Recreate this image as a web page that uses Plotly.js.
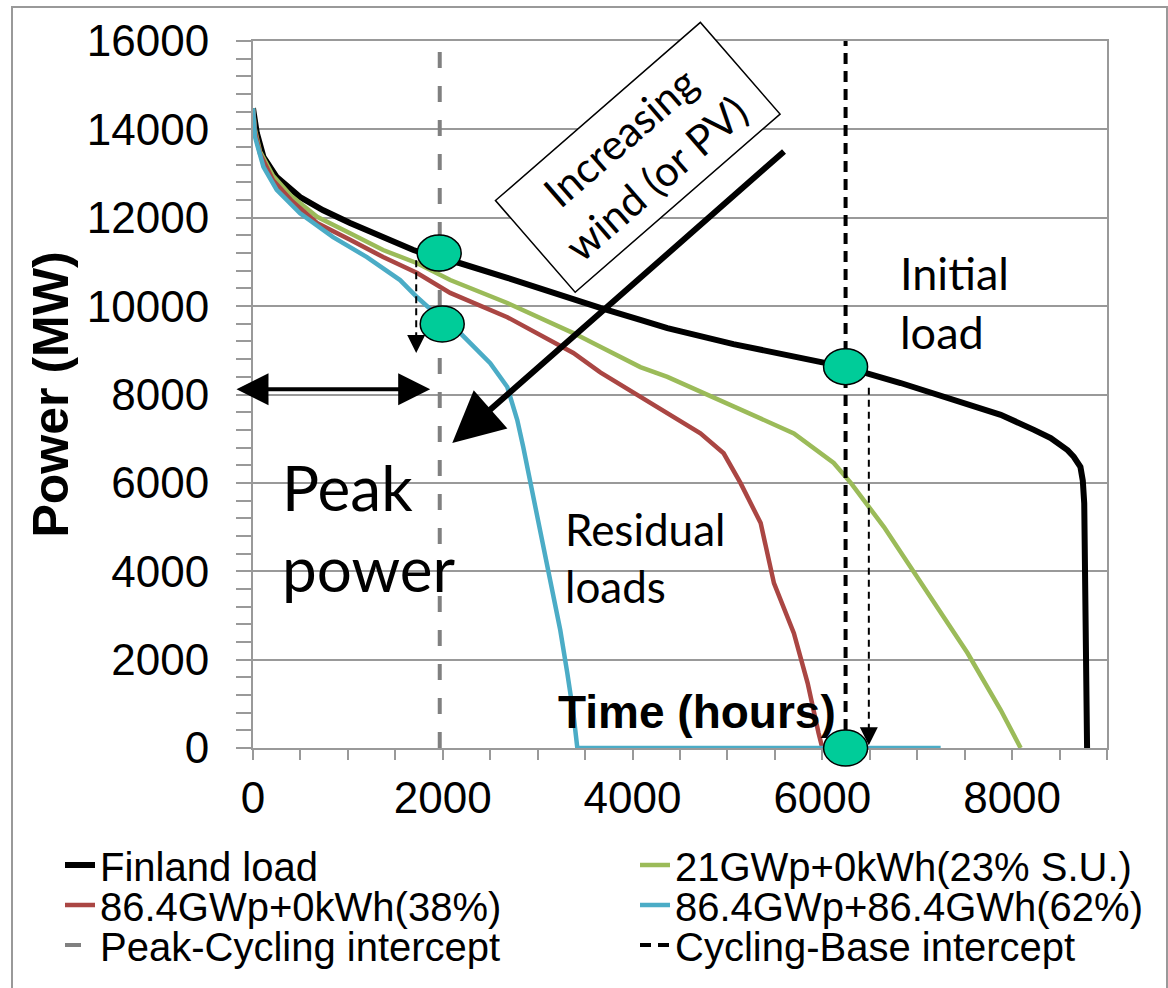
<!DOCTYPE html>
<html>
<head>
<meta charset="utf-8">
<script src="https://cdn.plot.ly/plotly-3.0.1.min.js"></script>
<style>html,body{margin:0;padding:0;background:#fff;}#chart{width:1168px;height:988px;}</style>
</head>
<body>
<div id="chart"></div>
<script>
// ---- data ----
const loadX = [0,20,40,110,250,496,740,1023,1371,1690,1960,2184,2680,3376,3660,4082,4367,5063,5770,6245,6825,7530,7880,8230,8407,8585,8650,8720,8745,8760,8790];
const loadY = [14480,14200,13920,13380,12920,12470,12170,11880,11560,11270,11080,10970,10640,10140,9960,9690,9500,9140,8830,8620,8260,7800,7540,7200,7015,6740,6590,6360,6050,5540,0];

const greenX = [0,20,74,211,400,675,1023,1371,1730,2078,2680,3376,3660,4082,4367,5063,5700,6120,6300,6650,6930,7175,7530,7880,8090];
const greenY = [14480,14000,13500,12950,12500,12020,11650,11270,10970,10590,10070,9390,9080,8620,8400,7720,7120,6450,6000,5000,4100,3280,2150,860,0];

const redX = [0,20,74,211,400,675,1023,1371,1730,2078,2680,3376,3660,4082,4190,4715,4960,5137,5350,5490,5700,5845,5960,6000];
const redY = [14480,13950,13450,12850,12400,11880,11500,11110,10750,10300,9750,8940,8500,7950,7800,7120,6670,6000,5090,3730,2600,1470,340,0];

const cyanX = [0,21,110,250,496,844,1200,1550,1730,1990,2184,2500,2680,2785,2848,2920,3027,3133,3238,3312,3376,3418,7247];
const cyanY = [14480,13830,13150,12630,12100,11560,11110,10590,10200,9700,9390,8710,8170,7420,6810,6060,4930,3800,2670,1700,790,0,0];

const peakCycX = [1968,1968];
const baseCycX = [6245,6245];
const interceptY = [0,16000];

const seriesNames = ["Finland load","21GWp+0kWh(23% S.U.)","86.4GWp+0kWh(38%)","86.4GWp+86.4GWh(62%)","Peak-Cycling intercept","Cycling-Base intercept"];

// intercept markers (ellipses)
const dotX = [1962,1994,6245,6245];
const dotY = [11200,9595,8630,0];

// thin dashed drop arrows
const dropX = [1720,6490];
const dropTop = [11040,8150];
const dropTip = [8940,60];

// peak power double arrow
const peakArrowY = 8120;
const peakArrowX0 = -190, peakArrowX1 = 1867;

// big "increasing wind" arrow
const bigArrowTail = [5612,13530];
const bigArrowHead = [2100,6900];

const xTicks = [0,2000,4000,6000,8000];
const yTicks = [0,2000,4000,6000,8000,10000,12000,14000,16000];

// ---- traces ----
const AX = "Liberation Sans, Arial, sans-serif";
const SANS2 = "Lato, 'Open Sans', sans-serif";
const traces = [
  {x: loadX, y: loadY, name: seriesNames[0], mode:"lines", line:{color:"#000000", width:6}, legend:"legend", cliponaxis:false},
  {x: greenX, y: greenY, name: seriesNames[1], mode:"lines", line:{color:"#9BBB59", width:4.5}, legend:"legend2", cliponaxis:false},
  {x: redX, y: redY, name: seriesNames[2], mode:"lines", line:{color:"#AA4643", width:4.5}, legend:"legend3", cliponaxis:false},
  {x: cyanX, y: cyanY, name: seriesNames[3], mode:"lines", line:{color:"#4BACC6", width:4.5}, legend:"legend4", cliponaxis:false},
  {x: peakCycX, y: interceptY, name: seriesNames[4], mode:"lines", line:{color:"#808080", width:4, dash:"16px,18px"}, legend:"legend5"},
  {x: baseCycX, y: interceptY, name: seriesNames[5], mode:"lines", line:{color:"#000000", width:4, dash:"11px,7px"}, legend:"legend6"}
];

// ---- shapes ----
const shapes = [];
// outer frame
shapes.push({type:"rect", xref:"paper", yref:"paper", x0:(12-253)/854, x1:(1167-253)/854, y0:-0.4, y1:(748-7)/707, line:{color:"#999999", width:2}, fillcolor:"rgba(0,0,0,0)", layer:"below"});
for (let i=0;i<dropX.length;i++){
  shapes.push({type:"line", xref:"x", yref:"y", x0:dropX[i], x1:dropX[i], y0:dropTop[i], y1:dropTip[i]+250, line:{color:"#000", width:2, dash:"7px,5px"}});
}
for (let i=0;i<dotX.length;i++){
  const s = {type:"circle", xref:"x", xsizemode:"pixel", ysizemode:"pixel", xanchor:dotX[i], x0:-22, x1:22, y0:-18, y1:18, fillcolor:"#00CC99", line:{color:"#000", width:1.5}, layer:"above"};
  if (dotY[i] === 0) { s.yref = "paper"; s.yanchor = 0; } else { s.yref = "y"; s.yanchor = dotY[i]; }
  shapes.push(s);
}

// ---- annotations ----
const annotations = [
  {x: bigArrowHead[0], y: bigArrowHead[1], ax: bigArrowTail[0], ay: bigArrowTail[1], axref:"x", ayref:"y", xref:"x", yref:"y", text:"", showarrow:true, arrowhead:2, arrowsize:1.7, arrowwidth:6, arrowcolor:"#000"},
  {x: peakArrowX1, y: peakArrowY, ax: peakArrowX0, ay: peakArrowY, axref:"x", ayref:"y", xref:"x", yref:"y", text:"", showarrow:true, arrowhead:2, startarrowhead:2, arrowside:"end+start", arrowsize:1.6, startarrowsize:1.6, arrowwidth:4, arrowcolor:"#000"},
  {x: dropX[0], y: dropTip[0], ax:0, ay:-14, xref:"x", yref:"y", text:"", showarrow:true, arrowhead:2, arrowsize:1.8, arrowwidth:2, arrowcolor:"#000"},
  {x: dropX[1], y: dropTip[1], ax:0, ay:-14, xref:"x", yref:"y", text:"", showarrow:true, arrowhead:2, arrowsize:1.8, arrowwidth:2, arrowcolor:"#000"},
  {x: 4051, y: 13374, xref:"x", yref:"y", text:"Increasing<br>wind (or PV)", showarrow:false, textangle:-41, font:{family:SANS2, size:42, color:"#000"}, bgcolor:"#ffffff", bordercolor:"#000", borderwidth:1.5, width:260, height:110, borderpad:5},
  {x: 285, y: 5000, xref:"x", yref:"y", xanchor:"left", yanchor:"middle", align:"left", text:"Peak<br>power", showarrow:false, font:{family:SANS2, size:62, color:"#000"}},
  {x: 6793, y: 10090, xref:"x", yref:"y", xanchor:"left", yanchor:"middle", align:"left", text:"Initial<br>load", showarrow:false, font:{family:SANS2, size:45, color:"#000"}},
  {x: 3270, y: 4320, xref:"x", yref:"y", xanchor:"left", yanchor:"middle", align:"left", text:"Residual<br>loads", showarrow:false, font:{family:SANS2, size:44, color:"#000"}},
  {x: 4684, y: 815, xref:"x", yref:"y", xanchor:"center", yanchor:"middle", text:"<b>Time (hours)</b>", showarrow:false, font:{family:AX, size:46, color:"#000"}}
];

const legendCommon = {orientation:"h", xref:"container", yref:"container", xanchor:"left", yanchor:"middle", font:{family:AX, size:40, color:"#000"}, bgcolor:"rgba(0,0,0,0)", borderwidth:0};
const legendPos = [[60,865],[635,865],[60,905],[635,905],[60,945],[635,945]];
function legendAt(i){ return Object.assign({}, legendCommon, {x:legendPos[i][0]/1168, y:1-legendPos[i][1]/988}); }

const layout = {
  width:1168, height:988,
  margin:{l:253, r:61, t:41, b:240},
  paper_bgcolor:"#ffffff", plot_bgcolor:"#ffffff",
  showlegend:true,
  xaxis:{range:[0,9000], tickvals:xTicks, tickformat:"d", ticks:"outside", ticklen:10, tickwidth:2, tickcolor:"#999999",
         minor:{dtick:500, ticks:"outside", ticklen:10, tickwidth:2, tickcolor:"#999999", showgrid:false},
         showgrid:false, zeroline:false, showline:true, linecolor:"#999999", linewidth:2, mirror:true,
         tickfont:{family:AX, size:44, color:"#000"}, ticklabelstandoff:0, fixedrange:true},
  yaxis:{range:[0,16000], tickvals:yTicks, tickformat:"d", ticks:"outside", ticklen:15, tickwidth:2, tickcolor:"#999999",
         minor:{dtick:400, ticks:"outside", ticklen:15, tickwidth:2, tickcolor:"#999999", showgrid:false},
         showgrid:true, gridcolor:"#999999", gridwidth:2, zeroline:false, showline:true, linecolor:"#999999", linewidth:2, mirror:true,
         tickfont:{family:AX, size:44, color:"#000"}, ticklabelstandoff:18, automargin:true,
         title:{text:"<b>Power (MW)</b>", font:{family:AX, size:50, color:"#000"}, standoff:2}, fixedrange:true},
  legend: legendAt(0), legend2: legendAt(1), legend3: legendAt(2),
  legend4: legendAt(3), legend5: legendAt(4), legend6: legendAt(5),
  shapes: shapes,
  annotations: annotations
};

Plotly.newPlot("chart", traces, layout, {displayModeBar:false, staticPlot:true});
</script>
</body>
</html>
